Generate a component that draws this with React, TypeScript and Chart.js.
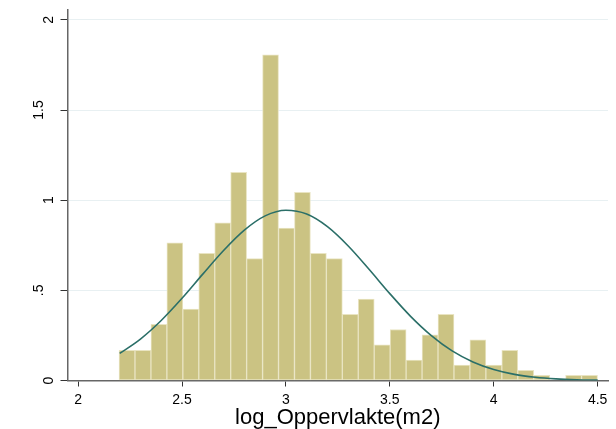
import React, { useEffect, useRef } from "react";
import { Chart, registerables } from "chart.js";

Chart.register(...registerables);

// Histogram bins (density scale)
const binStart = 2.197;
const binWidth = 0.07675;
const densities = [
  0.168, 0.168, 0.311, 0.763, 0.396, 0.705, 0.874, 1.155, 0.676, 1.807,
  0.846, 1.044, 0.705, 0.676, 0.367, 0.452, 0.198, 0.283, 0.113, 0.253,
  0.367, 0.085, 0.226, 0.085, 0.168, 0.056, 0.028, 0.0, 0.028, 0.028,
];

// Normal density overlay
const curveX = [
  2.2, 2.3, 2.4, 2.5, 2.6, 2.7, 2.8, 2.9, 3.0, 3.1, 3.2, 3.3, 3.4, 3.5,
  3.6, 3.7, 3.8, 3.9, 4.0, 4.1, 4.2, 4.3, 4.4, 4.5,
];
const curveY = [
  0.15, 0.23, 0.333, 0.456, 0.59, 0.721, 0.834, 0.913, 0.944, 0.923, 0.853,
  0.746, 0.617, 0.482, 0.356, 0.249, 0.164, 0.103, 0.061, 0.034, 0.018,
  0.009, 0.0042, 0.0019,
];

const xTitle = "log_Oppervlakte(m2)";
const fmtTick = (v: number) => {
  const s = String(Math.round(v * 100) / 100);
  return s.startsWith("0.") ? s.slice(1) : s;
};

// Draws the rotated y tick labels the way the original places them
const yLabelPlugin = {
  id: "yLabels",
  afterDraw(chart: any) {
    const s = chart.scales.y;
    const ctx = chart.ctx;
    ctx.save();
    ctx.font = "14px 'Liberation Sans', Arial, sans-serif";
    ctx.fillStyle = "#000";
    ctx.textAlign = "center";
    ctx.textBaseline = "middle";
    for (const t of s.ticks) {
      const label = fmtTick(t.value);
      const y = s.getPixelForValue(t.value);
      const cx = label.length === 1 ? 49 : 39;
      ctx.save();
      ctx.translate(cx, y);
      ctx.rotate(-Math.PI / 2);
      ctx.fillText(label, 0, 0);
      ctx.restore();
    }
    ctx.restore();
  },
};

export default function App() {
  const ref = useRef<HTMLCanvasElement | null>(null);
  useEffect(() => {
    document.body.style.margin = "0";
    const ctx = ref.current!;
    Chart.defaults.font.family = "'Liberation Sans', Arial, sans-serif";
    Chart.defaults.color = "#000";
    const bars = densities.map((d, i) => ({ x: binStart + binWidth * (i + 0.5), y: d }));
    const line = curveX.map((x, i) => ({ x, y: curveY[i] }));
    const chart = new Chart(ctx, {
      type: "bar",
      data: {
        datasets: [
          {
            type: "line",
            data: line,
            borderColor: "#2b6f68",
            borderWidth: 1.6,
            pointRadius: 0,
            cubicInterpolationMode: "monotone",
            order: 0,
          } as any,
          {
            type: "bar",
            data: bars,
            backgroundColor: "#cbc383",
            borderColor: "#e9e4c2",
            borderWidth: 1,
            borderSkipped: false,
            barPercentage: 1,
            categoryPercentage: 1,
            order: 1,
          } as any,
        ],
      },
      plugins: [yLabelPlugin],
      options: {
        animation: false,
        responsive: false,
        events: [],
        layout: { padding: { top: 10, right: 8, left: 0, bottom: 0 } },
        plugins: { legend: { display: false }, tooltip: { enabled: false } },
        scales: {
          x: {
            type: "linear",
            offset: false,
            min: 1.949,
            max: 4.55,
            afterFit: (s: any) => {
              s.height = 48.5;
            },
            grid: {
              offset: false,
              drawOnChartArea: false,
              drawTicks: true,
              tickLength: 6,
              tickColor: "#333",
            },
            border: { display: true, color: "#666", width: 1.5 },
            ticks: {
              stepSize: 0.5,
              includeBounds: false,
              autoSkip: false,
              maxRotation: 0,
              minRotation: 0,
              padding: 5,
              font: { size: 14 },
              color: "#000",
              callback: (v: any) => fmtTick(Number(v)),
            },
            title: {
              display: true,
              text: xTitle,
              font: { size: 22 },
              color: "#000",
              padding: { top: 0, bottom: -2 },
            },
          },
          y: {
            type: "linear",
            min: 0,
            max: 2.055,
            afterFit: (s: any) => {
              s.width = 67.5;
            },
            grid: {
              color: "#e8f0f2",
              lineWidth: 1,
              drawTicks: true,
              tickLength: 7,
              tickColor: "#333",
            },
            border: { display: true, color: "#666", width: 1.5 },
            ticks: {
              display: false,
              stepSize: 0.5,
              includeBounds: false,
              autoSkip: false,
              callback: (v: any) => fmtTick(Number(v)),
            },
          },
        },
      },
    });
    return () => chart.destroy();
  }, []);
  return (
    <div style={{ width: 616, height: 429, position: "relative", background: "#fff" }}>
      <canvas ref={ref} width={616} height={429} style={{ display: "block" }} />
    </div>
  );
}
